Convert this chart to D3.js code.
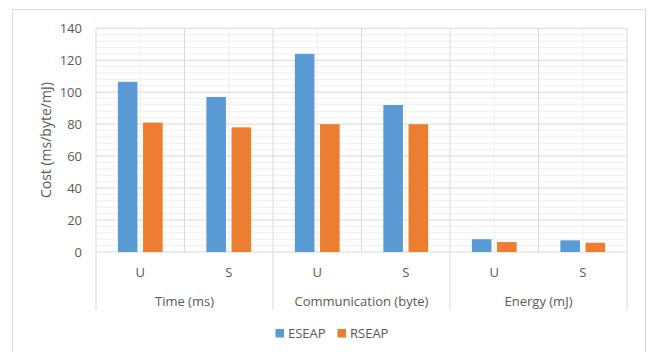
<!DOCTYPE html>
<html><head><meta charset="utf-8">
<script src="https://cdn.jsdelivr.net/npm/d3@7"></script>
<style>body{margin:0;background:#fff}svg{display:block}text{font-family:"Open Sans",sans-serif;fill:#595959}</style>
</head><body><svg id="c" width="653" height="352"></svg>
<script>
const groups = ["Time (ms)", "Communication (byte)", "Energy (mJ)"];
const subs = ["U", "S"];
const seriesNames = ["ESEAP", "RSEAP"];
const eseap = [106.5, 97, 124, 92, 8, 7.3];
const rseap = [81, 78, 80, 80, 6.2, 5.8];
const yTicks = [0, 20, 40, 60, 80, 100, 120, 140];
const colors = ["#5B9BD5", "#ED7D31"];

const svg = d3.select("#c");
const L = 96, R = 627, T = 28.3, B = 252;
svg.append("rect").attr("x", 12.5).attr("y", 9.5).attr("width", 633).attr("height", 360)
  .attr("fill", "#fff").attr("stroke", "#d9d9d9").attr("stroke-width", 1);

const cats = [];
groups.forEach(g => subs.forEach(s => cats.push(g + "|" + s)));
const x = d3.scaleBand().domain(cats).range([L, R]);
const gx = d3.scaleBand().domain(groups).range([L, R]);
const y = d3.scaleLinear().domain([0, 140]).range([B, T]);

const minor = d3.range(0, 141, 4).filter(v => v % 20 !== 0);
svg.append("g").selectAll("line").data(minor).join("line")
  .attr("x1", L).attr("x2", R).attr("y1", d => y(d)).attr("y2", d => y(d))
  .attr("stroke", "#f0f0f0").attr("stroke-width", 1);
svg.append("g").selectAll("line").data(cats).join("line")
  .attr("x1", d => x(d) + x.bandwidth() / 2).attr("x2", d => x(d) + x.bandwidth() / 2)
  .attr("y1", T).attr("y2", B).attr("stroke", "#f0f0f0");
svg.append("g").selectAll("line").data(yTicks).join("line")
  .attr("x1", L).attr("x2", R).attr("y1", d => y(d)).attr("y2", d => y(d))
  .attr("stroke", "#d9d9d9");
svg.append("g").selectAll("line").data(cats.concat(["end"])).join("line")
  .attr("x1", d => d === "end" ? R : x(d)).attr("x2", d => d === "end" ? R : x(d))
  .attr("y1", T).attr("y2", B).attr("stroke", "#d9d9d9");
svg.append("g").selectAll("line").data(groups.concat(["end"])).join("line")
  .attr("x1", d => d === "end" ? R : gx(d)).attr("x2", d => d === "end" ? R : gx(d))
  .attr("y1", B).attr("y2", 310).attr("stroke", "#d9d9d9");

const bw = 19.6, gap = 5.6;
const data = [];
cats.forEach((c, i) => {
  data.push({c, s: 0, v: eseap[i]});
  data.push({c, s: 1, v: rseap[i]});
});
svg.append("g").selectAll("rect").data(data).join("rect")
  .attr("x", d => x(d.c) + x.bandwidth() / 2 + (d.s === 0 ? -gap / 2 - bw : gap / 2))
  .attr("width", bw)
  .attr("y", d => y(d.v)).attr("height", d => B - y(d.v))
  .attr("fill", d => colors[d.s]);

svg.append("g").selectAll("text").data(yTicks).join("text")
  .attr("x", 82).attr("y", d => y(d)).attr("dy", "0.35em").attr("text-anchor", "end")
  .attr("font-size", 13).text(d => d);

svg.append("g").selectAll("text").data(cats).join("text")
  .attr("x", d => x(d) + x.bandwidth() / 2).attr("y", 272).attr("dy", "0.35em")
  .attr("text-anchor", "middle").attr("font-size", 13).text(d => d.split("|")[1]);
svg.append("g").selectAll("text").data(groups).join("text")
  .attr("x", d => gx(d) + gx.bandwidth() / 2).attr("y", 301).attr("dy", "0.35em")
  .attr("text-anchor", "middle").attr("font-size", 13).text(d => d);

svg.append("text").attr("transform", "translate(46.5," + ((T + B) / 2) + ") rotate(-90)")
  .attr("text-anchor", "middle").attr("dy", "0.35em").attr("font-size", 14)
  .text("Cost (ms/byte/mJ)");

const lg = svg.append("g");
const lx = [275.5, 337.5];
seriesNames.forEach((n, i) => {
  lg.append("rect").attr("x", lx[i]).attr("y", 329).attr("width", 8.5).attr("height", 8.5).attr("fill", colors[i]);
  lg.append("text").attr("x", lx[i] + 12.5).attr("y", 333.5).attr("dy", "0.35em").attr("font-size", 13).text(n);
});
</script></body></html>
